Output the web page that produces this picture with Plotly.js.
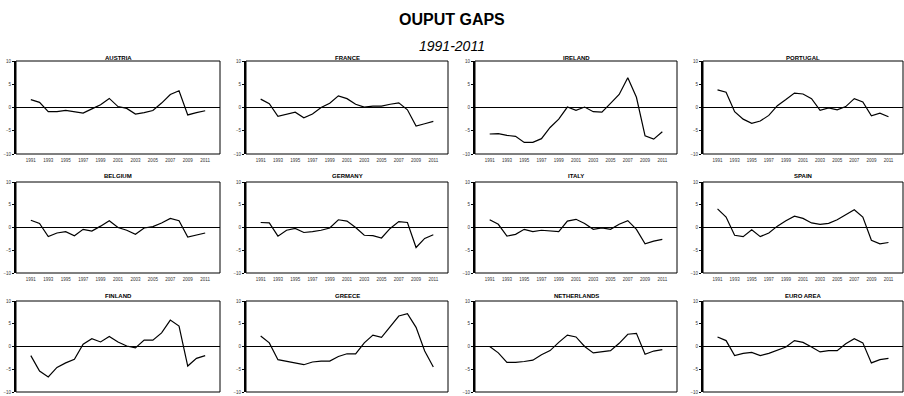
<!DOCTYPE html>
<html><head><meta charset="utf-8">
<script src="https://cdn.plot.ly/plotly-3.0.1.min.js"></script>
<style>html,body{margin:0;padding:0;background:#fff}#chart{width:904px;height:396px}</style>
</head><body><div id="chart"></div>
<script>
const years = [1991,1992,1993,1994,1995,1996,1997,1998,1999,2000,2001,2002,2003,2004,2005,2006,2007,2008,2009,2010,2011];
const tickYears = [1991,1993,1995,1997,1999,2001,2003,2005,2007,2009,2011];
const tickLabels = ["1991","1993","1995","1997","1999","2001","2003","2005","2007","2009","2011"];
const yTicks = [-10,-5,0,5,10];
const countries = ["AUSTRIA","FRANCE","IRELAND","PORTUGAL","BELGIUM","GERMANY","ITALY","SPAIN","FINLAND","GREECE","NETHERLANDS","EURO AREA"];

const austria     = [1.7,1.1,-0.9,-0.9,-0.6,-0.85,-1.2,-0.3,0.6,1.95,0.2,-0.2,-1.4,-1.1,-0.65,0.95,2.8,3.6,-1.6,-1.1,-0.7];
const france      = [1.8,0.8,-1.9,-1.5,-1.0,-2.2,-1.4,0.0,0.9,2.5,1.9,0.7,0.1,0.3,0.3,0.7,1.0,-0.5,-4.0,-3.5,-3.0];
const ireland     = [-5.7,-5.6,-6.0,-6.2,-7.5,-7.5,-6.7,-4.3,-2.5,0.1,-0.6,0.1,-0.9,-1.0,0.9,2.8,6.4,2.2,-6.1,-6.8,-5.2];
const portugal    = [3.8,3.3,-0.9,-2.5,-3.4,-2.9,-1.7,0.4,1.7,3.1,2.9,1.9,-0.6,-0.1,-0.5,0.2,1.9,1.2,-1.8,-1.2,-2.0];
const belgium     = [1.6,0.9,-2.0,-1.2,-0.9,-1.8,-0.4,-0.8,0.3,1.5,0.0,-0.6,-1.5,-0.1,0.2,1.0,2.0,1.5,-2.1,-1.7,-1.2];
const germany     = [1.1,1.0,-1.9,-0.6,-0.2,-1.1,-0.9,-0.6,-0.1,1.7,1.4,0.0,-1.7,-1.8,-2.3,-0.2,1.3,1.1,-4.4,-2.4,-1.6];
const italy       = [1.7,0.7,-1.9,-1.5,-0.4,-0.9,-0.6,-0.8,-0.9,1.4,1.8,0.9,-0.4,-0.1,-0.4,0.7,1.5,-0.4,-3.6,-3.0,-2.6];
const spain       = [4.1,2.3,-1.7,-2.0,-0.5,-2.0,-1.2,0.3,1.5,2.5,2.0,1.0,0.7,0.9,1.7,2.8,3.9,2.3,-2.8,-3.6,-3.3];
const finland     = [-2.0,-5.4,-6.7,-4.6,-3.6,-2.8,0.5,1.7,1.0,2.2,1.0,0.1,-0.3,1.4,1.4,3.0,5.8,4.5,-4.3,-2.6,-2.0];
const greece      = [2.3,0.8,-2.9,-3.3,-3.6,-4.0,-3.4,-3.2,-3.2,-2.2,-1.6,-1.6,0.8,2.5,2.0,4.4,6.7,7.2,4.2,-1.0,-4.5];
const netherlands = [0.0,-1.4,-3.5,-3.5,-3.3,-3.0,-1.8,-0.9,0.9,2.5,2.1,0.0,-1.4,-1.1,-0.9,0.7,2.7,2.9,-1.7,-1.0,-0.7];
const euroArea    = [2.1,1.3,-2.0,-1.5,-1.3,-2.0,-1.5,-0.8,-0.1,1.3,0.9,-0.1,-1.2,-0.9,-0.9,0.6,1.7,0.8,-3.6,-2.9,-2.6];

const series = [austria,france,ireland,portugal,belgium,germany,italy,spain,finland,greece,netherlands,euroArea];

const W = 904, H = 396;
const colPx = [[16,220],[246,448],[475,677],[703,903]];
const rowPx = [[61,154],[182,273],[301,392]];
const titleY = [58.5,176,296];
const FONT = "Liberation Sans, Arial, sans-serif";

const data = [];
const layout = {
  width: W, height: H,
  margin: {l:0,r:0,t:0,b:0},
  paper_bgcolor: "#fff", plot_bgcolor: "#fff",
  showlegend: false,
  font: {family: FONT, color: "#000"},
  shapes: [],
  annotations: [
    {text: "<b>OUPUT GAPS</b>", x: 0.5, y: 1 - 20/H, xref: "paper", yref: "paper", xanchor: "center", yanchor: "middle", showarrow: false, font: {family: FONT, size: 16, color: "#000"}},
    {text: "<i>1991-2011</i>", x: 0.5, y: 1 - 46/H, xref: "paper", yref: "paper", xanchor: "center", yanchor: "middle", showarrow: false, font: {family: FONT, size: 14, color: "#000"}}
  ]
};

countries.forEach((name, i) => {
  const r = Math.floor(i/4), c = i % 4;
  const id = i === 0 ? "" : String(i+1);
  data.push({
    x: years, y: series[i], type: "scatter", mode: "lines",
    xaxis: "x"+id, yaxis: "y"+id,
    line: {color: "#000", width: 1.2},
    hoverinfo: "x+y"
  });
  layout["xaxis"+id] = {
    domain: [colPx[c][0]/W, colPx[c][1]/W],
    anchor: "y"+id,
    range: [1989.3, 2012.7],
    tickmode: "array", tickvals: tickYears, ticktext: tickLabels,
    ticks: "", showticklabels: r < 2, ticklabelstandoff: 2,
    tickfont: {family: FONT, size: 4.5, color: "#333"},
    showgrid: false, zeroline: false, showline: false, fixedrange: true
  };
  layout["yaxis"+id] = {
    domain: [1 - rowPx[r][1]/H, 1 - rowPx[r][0]/H],
    anchor: "x"+id,
    range: [-10, 10],
    tickmode: "array", tickvals: yTicks,
    ticks: "outside", ticklen: 2, tickwidth: 1, tickcolor: "#000",
    tickfont: {family: FONT, size: 4.5, color: "#333"},
    showgrid: false,
    zeroline: true, zerolinecolor: "#000", zerolinewidth: 1.5,
    showline: true, linecolor: "#000", linewidth: 2, fixedrange: true
  };
  layout.shapes.push({
    type: "rect", xref: "x"+id+" domain", yref: "y"+id+" domain",
    x0: 0, x1: 1, y0: 0, y1: 1,
    line: {color: "#000", width: 1}, fillcolor: "rgba(0,0,0,0)", layer: "above"
  });
  layout.annotations.push({
    text: "<b>"+name+"</b>",
    x: (colPx[c][0]+colPx[c][1])/2/W, y: 1 - titleY[r]/H,
    xref: "paper", yref: "paper", xanchor: "center", yanchor: "middle",
    showarrow: false, font: {family: FONT, size: 6, color: "#000"}
  });
});

Plotly.newPlot("chart", data, layout, {displayModeBar: false, staticPlot: true});
</script>
</body></html>
